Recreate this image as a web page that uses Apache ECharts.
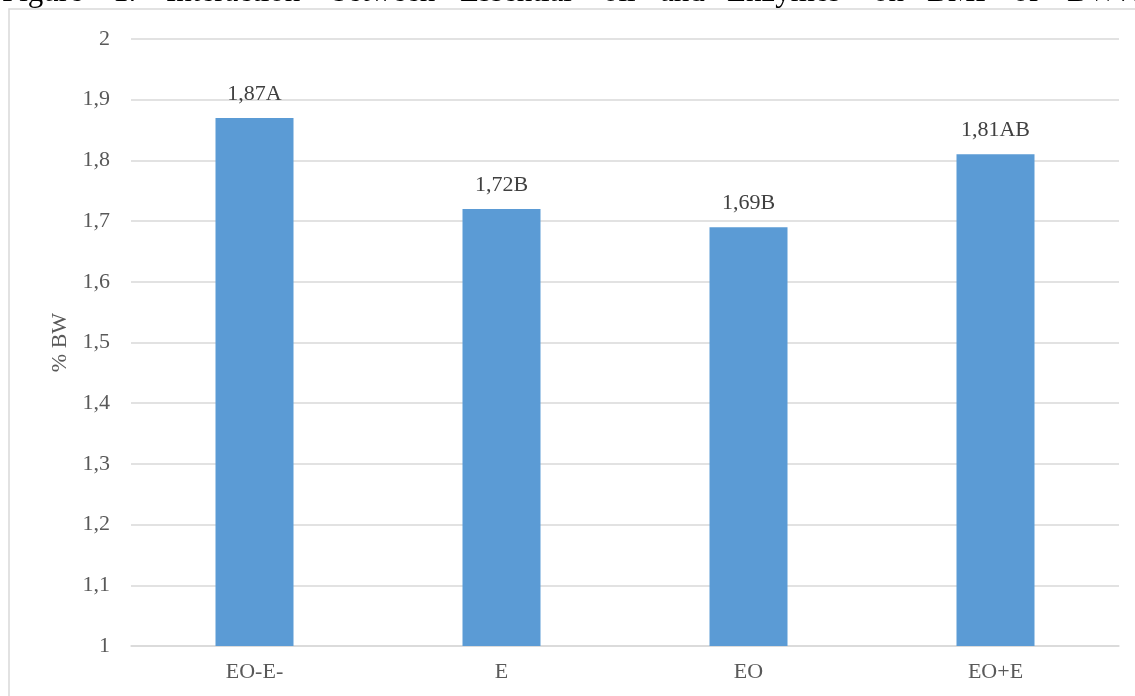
<!DOCTYPE html>
<html>
<head>
<meta charset="utf-8">
<script src="https://cdn.jsdelivr.net/npm/echarts@6/dist/echarts.min.js"></script>
<style>
  html, body { margin: 0; padding: 0; background: #ffffff; }
  #chart { width: 1135px; height: 696px; }
</style>
</head>
<body>
<div id="chart"></div>
<script>
// Treatments and their BW share with significance letters
const categories = ['EO-E-', 'E', 'EO', 'EO+E'];
const values = [1.87, 1.72, 1.69, 1.81];
const letters = ['A', 'B', 'B', 'AB'];
const yAxisName = '% BW';
const yMin = 1, yMax = 2, yStep = 0.1;

// Caption words of the figure heading, laid out across the page width
const captionWords = ['Figure', '1.', 'Interaction', 'between', 'Essential', 'oil', 'and', 'Enzymes', 'on', 'BMP', 'of', 'BW%'];
const captionX = [2, 113, 166, 332, 460, 603, 660, 727, 873, 927, 1013, 1067];

const fmt = v => String(+v.toFixed(2)).replace('.', ',');
const serif = '"Liberation Serif", "Times New Roman", serif';

const chart = echarts.init(document.getElementById('chart'), null, { renderer: 'canvas' });

const graphics = captionWords.map((w, i) => ({
  type: 'text',
  x: captionX[i],
  y: 8,
  style: {
    text: w,
    font: '31px ' + serif,
    fill: '#000000',
    verticalAlign: 'bottom'
  },
  silent: true
})).concat([
  {
    type: 'rect',
    shape: { x: 9, y: 9, width: 1140, height: 700 },
    style: { fill: '#ffffff', stroke: '#d9d9d9', lineWidth: 1.5 },
    z: -1,
    silent: true
  }
]);

chart.setOption({
  animation: false,
  backgroundColor: '#ffffff',
  graphic: graphics,
  grid: { left: 131, right: 16, top: 39, bottom: 50 },
  xAxis: {
    type: 'category',
    data: categories,
    axisLine: { show: true, lineStyle: { color: '#d9d9d9', width: 1.5 } },
    axisTick: { show: false },
    axisLabel: { color: '#595959', fontFamily: serif, fontSize: 22, margin: 15 }
  },
  yAxis: {
    type: 'value',
    min: yMin,
    max: yMax,
    interval: yStep,
    name: yAxisName,
    nameLocation: 'middle',
    nameGap: 57,
    nameTextStyle: { color: '#595959', fontFamily: serif, fontSize: 22 },
    axisLine: { show: false },
    axisTick: { show: false },
    axisLabel: { color: '#595959', fontFamily: serif, fontSize: 22, margin: 21, formatter: fmt },
    splitLine: { lineStyle: { color: '#d9d9d9', width: 1.5 } }
  },
  series: [{
    type: 'bar',
    data: values,
    barWidth: 78,
    itemStyle: { color: '#5b9bd5' },
    label: {
      show: true,
      position: 'top',
      distance: 13,
      color: '#404040',
      fontFamily: serif,
      fontSize: 22,
      formatter: p => fmt(p.value) + letters[p.dataIndex]
    }
  }]
});
</script>
</body>
</html>
